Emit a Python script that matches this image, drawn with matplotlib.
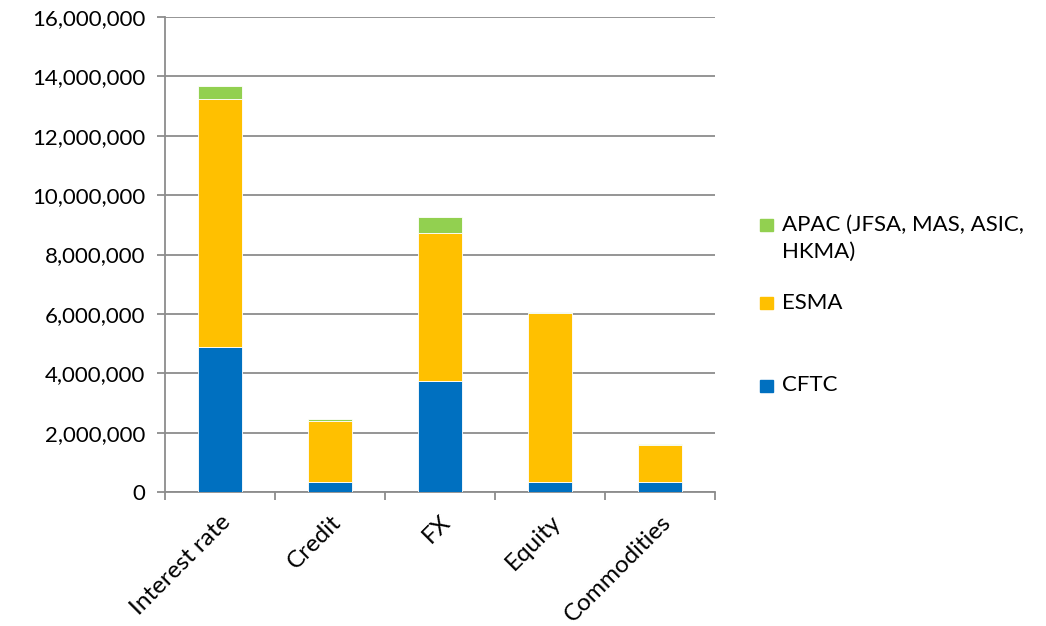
import matplotlib
matplotlib.use("Agg")
import matplotlib.pyplot as plt
from matplotlib.patches import Rectangle
from matplotlib.ticker import FuncFormatter, FixedLocator

categories = ["Interest rate", "Credit", "FX", "Equity", "Commodities"]
cftc = [4890000, 340000, 3740000, 340000, 330000]
esma = [8360000, 2060000, 5000000, 5690000, 1260000]
apac = [420000, 60000, 530000, 30000, 30000]

legend_labels = ["APAC (JFSA, MAS, ASIC,\nHKMA)", "ESMA", "CFTC"]

blue = "#0070C0"
yellow = "#FFC000"
green = "#92D050"
grid_c = "#8C8C8C"
W, H = 1046, 626

plt.rcParams["font.family"] = ["Lato", "DejaVu Sans"]

fig = plt.figure(figsize=(W / 100, H / 100), dpi=100)
ax = fig.add_axes([165 / W, 1 - 492 / H, 550 / W, 475 / H])

x = list(range(len(categories)))
w = 0.4
bottom2 = [a + b for a, b in zip(cftc, esma)]
ax.bar(x, cftc, w, color=blue, edgecolor="white", linewidth=0.6, zorder=3)
ax.bar(x, esma, w, bottom=cftc, color=yellow, edgecolor="white", linewidth=0.6, zorder=3)
ax.bar(x, apac, w, bottom=bottom2, color=green, edgecolor="white", linewidth=0.6, zorder=3)

ax.set_xlim(-0.5, len(categories) - 0.5)
ax.set_ylim(0, 16000000)
ax.set_yticks(range(0, 16000001, 2000000))
ax.yaxis.set_major_formatter(FuncFormatter(lambda v, p: f"{int(v):,}"))
ax.grid(axis="y", color=grid_c, linewidth=1.3, zorder=0)

ax.set_xticks(x)
ax.set_xticklabels(categories, rotation=45, ha="right", rotation_mode="anchor", fontsize=17.5)
ax.tick_params(axis="x", length=0, pad=14)
ax.xaxis.set_minor_locator(FixedLocator([i - 0.5 for i in range(len(categories) + 1)]))
ax.tick_params(axis="x", which="minor", length=6, color=grid_c, width=1.3)
ax.tick_params(axis="y", length=6, color=grid_c, width=1.3, labelsize=16, pad=8)

for s in ["top", "right"]:
    ax.spines[s].set_visible(False)
for s in ["left", "bottom"]:
    ax.spines[s].set_color(grid_c)
    ax.spines[s].set_linewidth(1.3)

# legend drawn by hand to match the uneven spacing
for color, label, sq_top, txt_y in zip([green, yellow, blue], legend_labels,
                                       [219, 297, 380], [225, 303, 385]):
    fig.add_artist(Rectangle((760 / W, 1 - (sq_top + 12) / H), 13 / W, 12 / H,
                             transform=fig.transFigure, color=color))
    fig.text(782 / W, 1 - (txt_y - 10) / H, label, fontsize=16, va="top",
             linespacing=1.45)

fig.savefig("out.png", dpi=100)
